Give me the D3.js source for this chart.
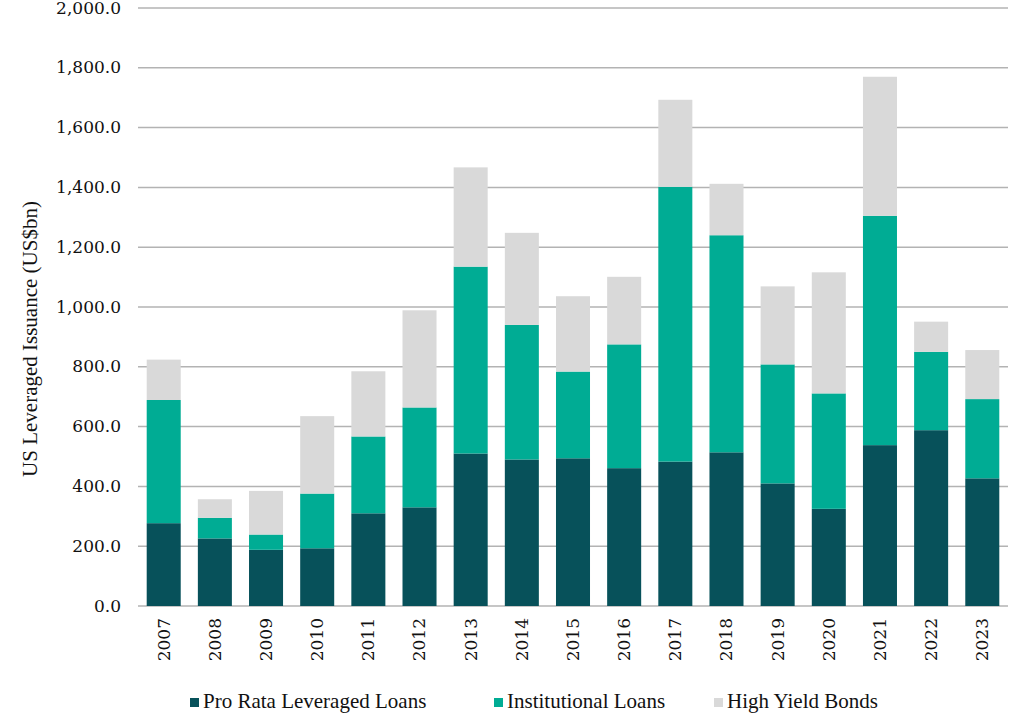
<!DOCTYPE html>
<html><head><meta charset="utf-8">
<script src="https://cdn.jsdelivr.net/npm/d3@7"></script>
<style>body{margin:0;background:#fff;} svg{display:block;}</style>
</head><body>
<svg id="chart" width="1024" height="716"></svg>
<script>
const years = ["2007","2008","2009","2010","2011","2012","2013","2014","2015","2016","2017","2018","2019","2020","2021","2022","2023"];
const proRata = [277,226,188,193,310,330,510,490,494,461,483,514,410,325,538,588,427];
const institutional = [412,69,51,183,257,334,625,450,290,414,919,726,398,386,767,262,265];
const highYield = [135,62,146,259,218,325,332,308,252,226,291,172,261,405,465,101,164];
const yTicks = [0,200,400,600,800,1000,1200,1400,1600,1800,2000];
const seriesNames = ["Pro Rata Leveraged Loans","Institutional Loans","High Yield Bonds"];
const colors = ["#07515a","#00ac94","#d9d9d9"];

const svg = d3.select("#chart");
const m = {left:138, right:1008, top:8, bottom:606};
const x = d3.scaleBand().domain(years).range([m.left, m.right]).paddingInner(0.335).paddingOuter(0.17);
const y = d3.scaleLinear().domain([0,2000]).range([m.bottom, m.top]);

const table = years.map((yr,i)=>({year:yr, s0:proRata[i], s1:institutional[i], s2:highYield[i]}));
const stacked = d3.stack().keys(["s0","s1","s2"])(table);

// gridlines
svg.append("g").selectAll("line").data(yTicks).join("line")
  .attr("x1", m.left).attr("x2", m.right)
  .attr("y1", d=>y(d)).attr("y2", d=>y(d))
  .attr("stroke", "#b3b3b3").attr("stroke-width", 1.5);

// bars
svg.append("g").selectAll("g").data(stacked).join("g")
  .attr("fill", (d,i)=>colors[i])
  .selectAll("rect").data(d=>d).join("rect")
  .attr("x", d=>x(d.data.year))
  .attr("width", x.bandwidth())
  .attr("y", d=>y(d[1]))
  .attr("height", d=>y(d[0])-y(d[1]));

// y axis
const fmt = d3.format(",.1f");
const yAxis = d3.axisLeft(y).tickValues(yTicks).tickFormat(fmt).tickSize(0).tickPadding(0);
const ya = svg.append("g").attr("transform", `translate(121,0)`).call(yAxis);
ya.select(".domain").remove();
ya.selectAll("text").attr("font-family","DejaVu Serif").attr("font-size","17px").attr("fill","#111").attr("dy","0.3em");

// x axis
const xAxis = d3.axisBottom(x).tickSize(0).tickPadding(0);
const xa = svg.append("g").attr("transform", `translate(0,${m.bottom})`).call(xAxis);
xa.select(".domain").remove();
xa.selectAll("text")
  .attr("font-family","DejaVu Serif").attr("font-size","17px").attr("fill","#111")
  .attr("transform","rotate(-90)")
  .attr("text-anchor","end")
  .attr("x",-12).attr("y",0).attr("dy","0.35em");

// y title
svg.append("text")
  .attr("transform","translate(37,339) rotate(-90)")
  .attr("text-anchor","middle")
  .attr("font-family","Liberation Serif").attr("font-size","21px").attr("fill","#111")
  .text("US Leveraged Issuance (US$bn)");

// legend
const legX = [190, 494, 714];
const lg = svg.append("g").selectAll("g").data(seriesNames).join("g")
  .attr("transform",(d,i)=>`translate(${legX[i]},698)`);
lg.append("rect").attr("width",9).attr("height",9).attr("fill",(d,i)=>colors[i]);
lg.append("text").attr("x",13).attr("y",10)
  .attr("font-family","Liberation Serif").attr("font-size","21px").attr("fill","#111")
  .text(d=>d);
</script>
</body></html>
